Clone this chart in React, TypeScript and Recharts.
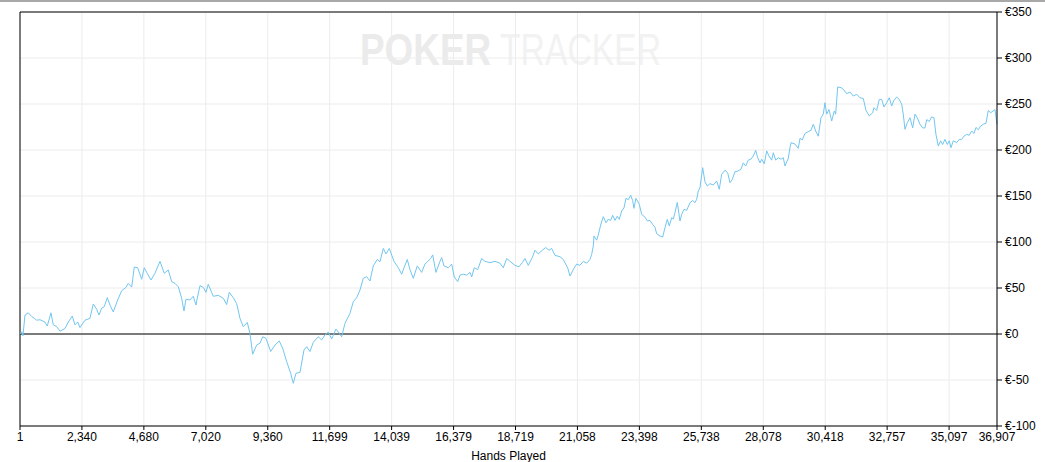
import React from 'react'
import { LineChart, Line, XAxis, YAxis, CartesianGrid, ReferenceLine } from 'recharts'

const hands = [
  1, 64, 113, 189, 314, 442, 540, 631, 756, 944, 1031, 1171, 1258, 1386, 1511, 1700, 1825, 1976, 2078, 2180,
  2267, 2455, 2644, 2769, 2897, 2984, 3086, 3184, 3298, 3400, 3524, 3691, 3842, 4004, 4091, 4219, 4318, 4446,
  4597, 4695, 4786, 4948, 5100, 5289, 5451, 5602, 5730, 5855, 5980, 6108, 6195, 6271, 6422, 6546, 6648, 6698,
  6800, 6924, 7026, 7113, 7302, 7491, 7680, 7808, 7906, 8057, 8186, 8311, 8435, 8586, 8688, 8790, 8941, 9066,
  9168, 9293, 9470, 9633, 9795, 9923, 10075, 10226, 10324, 10426, 10577, 10728, 10830, 10955, 11080, 11268,
  11397, 11521, 11646, 11775, 11937, 12062, 12152, 12277, 12466, 12590, 12719, 12844, 12968, 13097, 13221,
  13346, 13497, 13599, 13724, 13826, 13950, 14128, 14290, 14419, 14506, 14630, 14732, 14857, 15008, 15174,
  15299, 15514, 15590, 15714, 15866, 15930, 16017, 16179, 16308, 16406, 16534, 16621, 16746, 16874, 16999,
  17063, 17161, 17290, 17441, 17565, 17754, 17943, 18132, 18257, 18385, 18548, 18699, 18850, 18975, 19076,
  19201, 19352, 19454, 19579, 19730, 19858, 19983, 20085, 20210, 20399, 20523, 20689, 20776, 20901, 21029,
  21154, 21279, 21407, 21532, 21596, 21657, 21683, 21785, 21845, 21936, 22034, 22136, 22223, 22314, 22389,
  22476, 22563, 22639, 22729, 22816, 22892, 22979, 23069, 23145, 23194, 23269, 23394, 23485, 23609, 23696,
  23798, 23900, 23987, 24051, 24176, 24278, 24365, 24452, 24528, 24618, 24679, 24743, 24830, 24932, 24996,
  25083, 25185, 25309, 25411, 25498, 25562, 25623, 25687, 25789, 25876, 25963, 26065, 26189, 26318, 26416,
  26507, 26632, 26733, 26820, 26907, 27009, 27111, 27236, 27323, 27414, 27512, 27614, 27701, 27792, 27867,
  27954, 28018, 28116, 28207, 28294, 28396, 28456, 28547, 28645, 28747, 28834, 28898, 29023, 29087, 29125,
  29276, 29400, 29465, 29551, 29653, 29778, 29880, 29967, 30058, 30156, 30258, 30344, 30409, 30473, 30560,
  30662, 30760, 30813, 30889, 31014, 31101, 31229, 31353, 31478, 31607, 31731, 31856, 31958, 32082, 32211,
  32260, 32362, 32460, 32550, 32638, 32739, 32838, 32928, 33015, 33117, 33215, 33306, 33366, 33431, 33518,
  33620, 33722, 33809, 33896, 33998, 34099, 34186, 34251, 34348, 34439, 34526, 34601, 34689, 34779, 34855,
  34942, 35029, 35104, 35169, 35256, 35384, 35483, 35573, 35660, 35762, 35860, 35951, 36038, 36113, 36200,
  36287, 36389, 36491, 36578, 36668, 36759, 36830, 36907,
]

const profit = [
  0, 2.5, -2, 20.6, 23, 19, 17, 15, 15.5, 13, 8.7, 23, 10, 8, 3, 6, 13, 19.5, 10, 13,
  7, 15, 17, 32.6, 27, 20.6, 28, 29.7, 39.5, 31.5, 24, 37, 47, 50.7, 55, 51, 72.8, 72,
  59.5, 72, 67, 58.7, 66, 79, 66, 69.6, 57, 55, 51.4, 38.8, 25, 37.7, 37, 41, 31.5, 39,
  52.5, 50.7, 45.3, 54, 41, 42, 38.8, 32, 45.3, 39.5, 33, 17, 8, 12.7, 0.7, -22, -12, -10,
  -3, -4.7, -19, -12, -7.6, -15.5, -30, -42.7, -53.6, -42.7, -41.7, -17.4, -13.8, -19, -9, -3,
  -6.5, -1, 2, -5.4, 5.4, 0.7, -3, 11.6, 22.5, 35, 39.5, 47.8, 60.5, 62.3, 57.6,
  74, 81, 78.6, 93, 87, 93, 79, 72, 65, 72, 81, 70, 60.5, 74, 67,
  76, 82, 86, 67, 79, 83, 74, 72, 76, 62, 57, 64, 65, 64, 67,
  62, 72, 70, 82, 79, 77.5, 79, 77, 72, 82, 78, 74.6, 73, 77.5, 82,
  74.6, 83, 91, 87, 91, 94, 91, 93, 85.5, 84, 81, 72, 63, 70, 76,
  74.6, 79, 77, 81, 86.6, 95.6, 106.5, 102, 107.6, 118.5, 127.5, 121, 124.6, 123.5, 129,
  123.5, 128, 124.6, 133.7, 137, 147.5, 146, 150.8, 145, 136.6, 147.5, 141, 130, 127, 123,
  123.5, 119, 116, 109, 106.5, 105.4, 115.5, 124.6, 117.4, 126.4, 125, 132, 143, 122.8, 130,
  135.5, 134.4, 142.7, 145, 142.7, 146.4, 155.4, 159, 180.8, 165.5, 160.9, 163.4, 162, 166.3, 157.3,
  173.6, 178, 175.3, 164.5, 168, 176.4, 177, 179, 186, 182.6, 189, 190, 193.5, 199.6, 191.6,
  186, 190, 185, 199, 193.5, 189, 197, 189, 191.6, 190, 191.6, 182.6, 191, 202.5, 208,
  206.5, 201.8, 212.7, 211, 218, 220, 221.4, 228, 220.6, 215, 235, 239, 251.4, 239, 244,
  231.5, 242.4, 239, 268.5, 267.8, 266, 261.2, 263, 258.7, 260.5, 256.8, 256, 243, 237, 240.5,
  246, 243, 255, 255, 246.7, 251.4, 256.8, 247.8, 254, 257.6, 255, 249.7, 239, 222.5, 229.7,
  235, 224, 239, 235, 228, 224, 224, 233, 231, 236, 235, 217, 204.3, 210, 206,
  211.6, 206, 210, 202.5, 210, 208, 211.6, 211.6, 215, 217, 216, 220.6, 218, 224.5, 222,
  226, 228, 229, 243, 240.5, 242.4, 244, 228,
]

const xTicks = [1, 2340, 4680, 7020, 9360, 11699, 14039, 16379, 18719, 21058, 23398, 25738, 28078, 30418, 32757, 35097, 36907]
const yTicks = [-100, -50, 0, 50, 100, 150, 200, 250, 300, 350]

const data = hands.map((h, i) => ({ hands: h, profit: profit[i] }))

const font = '"Liberation Sans", Arial, sans-serif'
const tickStyle = { fontSize: 12, fill: '#000', fontFamily: font }

export default function App() {
  return (
    <div style={{ position: 'absolute', top: 0, left: 0, width: 1045, height: 462, background: '#fff', overflow: 'hidden' }}>
      <svg width={1045} height={462} style={{ position: 'absolute', top: 0, left: 0 }}>
        <g transform="translate(360,65) scale(0.82,1)">
          <text x={0} y={0} fontFamily={font} fontWeight="bold" fontSize={45} fill="#ebebeb">
            POKER
          </text>
        </g>
        <g transform="translate(500,65) scale(0.75,1)">
          <text x={0} y={0} fontFamily={font} fontSize={45} fill="#f2f2f2">
            TRACKER
          </text>
        </g>
      </svg>
      <div style={{ position: 'absolute', top: 0, left: 0, width: 1045, height: 2, background: '#a8a8a8' }} />
      <div style={{ position: 'absolute', top: 0, left: 0 }}>
        <LineChart width={1045} height={462} data={data} margin={{ top: 12, right: 0, bottom: 0, left: 20 }}>
          <CartesianGrid stroke="#ececec" strokeWidth={1} />
          <XAxis
            dataKey="hands"
            type="number"
            domain={[1, 36907]}
            ticks={xTicks}
            interval={0}
            tickFormatter={(v: number) => v.toLocaleString('en-US')}
            tick={tickStyle}
            tickSize={4}
            tickMargin={2}
            height={36}
            axisLine={{ stroke: '#000' }}
            tickLine={{ stroke: '#000' }}
            label={{ value: 'Hands Played', position: 'insideBottom', offset: 2, style: { fontSize: 12, fill: '#000', fontFamily: font } }}
          />
          <YAxis
            orientation="right"
            type="number"
            domain={[-100, 350]}
            ticks={yTicks}
            interval={0}
            tickFormatter={(v: number) => `€${v}`}
            tick={{ ...tickStyle, textAnchor: 'start' }}
            tickSize={5}
            tickMargin={3}
            width={48}
            axisLine={{ stroke: '#000' }}
            tickLine={{ stroke: '#000' }}
          />
          <ReferenceLine y={350} stroke="#000" />
          <ReferenceLine x={1} stroke="#000" />
          <ReferenceLine y={0} stroke="#000" />
          <Line
            type="linear"
            dataKey="profit"
            stroke="#72c6f0"
            strokeWidth={1}
            dot={false}
            isAnimationActive={false}
          />
        </LineChart>
      </div>
    </div>
  )
}
